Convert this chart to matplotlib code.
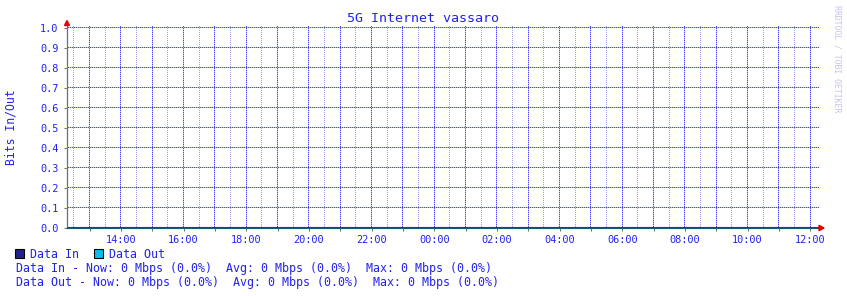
import matplotlib
matplotlib.use("Agg")
import numpy as np
import matplotlib.pyplot as plt
from matplotlib.colors import to_rgba
from matplotlib.patches import Rectangle, Polygon

# ---- data (both series flat at zero) ----
time_hours = [12.28, 14, 16, 18, 20, 22, 24, 26, 28, 30, 32, 34, 36, 36.28]
data_in = [0, 0, 0, 0, 0, 0, 0, 0, 0, 0, 0, 0, 0, 0]
data_out = [0, 0, 0, 0, 0, 0, 0, 0, 0, 0, 0, 0, 0, 0]
xtick_hours = [14, 16, 18, 20, 22, 24, 26, 28, 30, 32, 34, 36]
xtick_labels = ["14:00", "16:00", "18:00", "20:00", "22:00", "00:00",
                "02:00", "04:00", "06:00", "08:00", "10:00", "12:00"]
ytick_values = [0.0, 0.1, 0.2, 0.3, 0.4, 0.5, 0.6, 0.7, 0.8, 0.9, 1.0]
series_names = ["Data In", "Data Out"]
stats_lines = [
    "Data In - Now: 0 Mbps (0.0%)  Avg: 0 Mbps (0.0%)  Max: 0 Mbps (0.0%)",
    "Data Out - Now: 0 Mbps (0.0%)  Avg: 0 Mbps (0.0%)  Max: 0 Mbps (0.0%)",
]
title = "5G Internet vassaro"
ylabel = "Bits In/Out"
watermark = "RRDTOOL / TOBI OETIKER"

# ---- styling ----
W, H = 847, 296
TXT = "#2222ee"
MAJ = "#4646ee"
MAJ_GAP = "#c4c4f8"
MIN = "#9a9af8"
IN_C = "#22228f"
OUT_C = "#00c0f0"
MONO = "DejaVu Sans Mono"

fig = plt.figure(figsize=(W / 100, H / 100), dpi=100)
fig.patch.set_facecolor("white")

def fx(x):
    return x / W

def fy(y):
    return 1 - y / H

def rgba8(c):
    return (np.array(to_rgba(c)) * 255).astype(np.uint8)

x0, x1 = 67, 819
ytop, ybot = 26, 228
ax = fig.add_axes([fx(x0), fy(ybot), fx(x1) - fx(x0), fy(ytop) - fy(ybot)])
ax.set_facecolor("none")
xmin, xmax = 12.28, 36.28
ax.set_xlim(xmin, xmax)
ax.set_ylim(0, 1.01)

# ---- pixel-exact dotted grid (positions from the axes transform) ----
grid = np.full((H, W, 4), 255, dtype=np.uint8)
(px_l, py_b) = ax.transAxes.transform((0, 0))
(px_r, py_t) = ax.transAxes.transform((1, 1))
col_l, col_r = int(round(px_l)), int(round(px_r))
row_b, row_t = int(round(py_b)), int(round(py_t))
maj_c, gap_c, min_c = rgba8(MAJ), rgba8(MAJ_GAP), rgba8(MIN)

h = 12.5
while h < xmax:
    if h > xmin:
        is_major = abs(h - round(h)) < 1e-6
        c = int(np.floor(ax.transData.transform((h, 0))[0]))
        if is_major:
            grid[row_b:row_t, c] = gap_c
        rows = np.arange(row_t - 1, row_b, -2)
        grid[rows, c] = maj_c if is_major else min_c
    h += 0.5
for v in ytick_values[1:]:
    r = int(np.floor(ax.transData.transform((xmin, v))[1]))
    grid[r, col_l:col_r] = gap_c
    cols = np.arange(col_l + 1, col_r, 2)
    grid[r, cols] = maj_c
fig.figimage(grid, xo=0, yo=0, origin="lower", zorder=-1)

# data
ax.fill_between(time_hours, data_in, 0, color=IN_C, zorder=2)
ax.plot(time_hours, data_in, color="#124868", lw=1.5, zorder=3,
        solid_capstyle="butt", clip_on=False)
ax.plot(time_hours, data_out, color=OUT_C, lw=0.5, alpha=0.25, zorder=4,
        solid_capstyle="butt", clip_on=False)

for s in ["top", "right", "bottom"]:
    ax.spines[s].set_visible(False)
ax.spines["left"].set_color("#707070")
ax.spines["left"].set_linewidth(0.9)

ax.set_xticks(xtick_hours)
ax.set_xticks([hh for hh in range(13, 37)], minor=True)
ax.set_xticklabels(xtick_labels, fontsize=7.4, color=TXT, family=MONO)
ax.set_yticks(ytick_values)
ax.set_yticklabels([f"{v:.1f}" for v in ytick_values], fontsize=7.4,
                   color=TXT, family=MONO)
ax.tick_params(axis="x", which="both", length=2.5, width=0.7, color="#707070",
               pad=2.5)
ax.tick_params(axis="y", which="both", length=2.2, width=0.7, color="#707070",
               pad=4)

# arrows
fig.patches.append(Polygon([(fx(64.5), fy(25.5)), (fx(69.5), fy(25.5)),
                            (fx(67), fy(20.5))], closed=True,
                           transform=fig.transFigure, color="#ee0000"))
fig.patches.append(Polygon([(fx(819), fy(225.3)), (fx(819), fy(230.7)),
                            (fx(824), fy(228))], closed=True,
                           transform=fig.transFigure, color="#ee0000"))

# texts
fig.text(fx(423), fy(19), title, ha="center", va="center", fontsize=9.6,
         color=TXT, family=MONO)
fig.text(fx(11), fy(127), ylabel, ha="center", va="center", rotation=90,
         fontsize=8.3, color=TXT, family=MONO)
fig.text(fx(837), fy(59), watermark, ha="center", va="center", rotation=270,
         fontsize=5.9, color="#c4c4ea", family=MONO)

# legend
for (sx, tx), name, c in zip([(15, 30), (94, 109)], series_names, [IN_C, OUT_C]):
    fig.patches.append(Rectangle((fx(sx), fy(258.3)), fx(8.5), 9.3 / H,
                                 transform=fig.transFigure, facecolor=c,
                                 edgecolor="black", lw=0.8))
    fig.text(fx(tx), fy(254), name, ha="left", va="center", fontsize=8.4,
             color=TXT, family=MONO)

for i, line in enumerate(stats_lines):
    fig.text(fx(16), fy(268.5 + 14 * i), line, ha="left", va="center",
             fontsize=8.4, color=TXT, family=MONO)

fig.savefig("out.png", dpi=100, facecolor="white")
